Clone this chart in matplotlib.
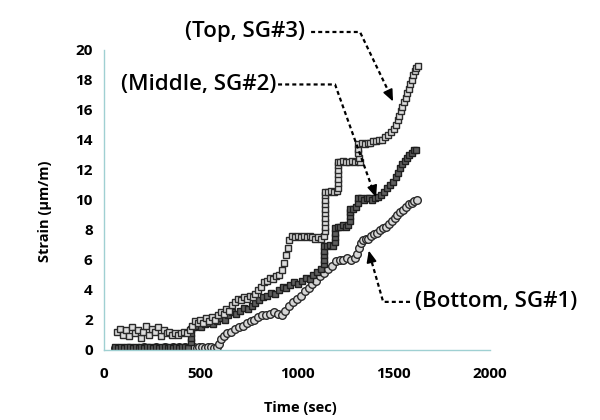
import matplotlib
matplotlib.use('agg')
import matplotlib.pyplot as plt

plt.rcParams['font.family'] = ['Open Sans', 'DejaVu Sans']

# SG#3 (top), square markers
sg3_t = [70, 85, 100, 115, 130, 145, 160, 175, 190, 205, 220, 235, 250, 265, 280, 295, 310, 325, 340, 355, 370, 385, 400, 415, 430, 445,
         455, 470, 485, 500, 515, 530, 545, 560, 575, 590, 605, 620, 635, 650, 665, 680, 695, 710, 725, 740, 755, 770, 785, 800,
         815, 830, 845, 860, 875, 890, 905, 920, 935, 945, 955, 960,
         975, 990, 1005, 1020, 1035, 1050, 1065, 1080, 1095, 1110, 1125, 1140,
         1145, 1145, 1145, 1145, 1145, 1145, 1145, 1145, 1145, 1145,
         1160, 1175, 1190, 1205,
         1210, 1210, 1210, 1210, 1210, 1210, 1210,
         1225, 1240, 1255, 1270, 1285, 1300, 1315, 1325,
         1322, 1318, 1315, 1318,
         1335, 1350, 1365, 1380, 1395, 1410, 1425, 1440, 1455, 1470, 1485, 1500, 1512,
         1522, 1530, 1538, 1546, 1554, 1562, 1570, 1578, 1586, 1594, 1602, 1610, 1618, 1625]
sg3_y = [1.2, 1.4, 1.0, 1.3, 0.9, 1.5, 1.1, 1.3, 0.8, 1.2, 1.6, 1.0, 1.4, 1.2, 1.5, 0.9, 1.3, 1.1, 1.2, 1.0, 1.1, 1.0, 1.1, 1.2, 1.1, 1.3,
         1.6, 1.9, 1.8, 2.0, 1.8, 2.1, 1.9, 2.2, 2.0, 2.3, 2.5, 2.4, 2.7, 2.6, 3.0, 3.2, 3.4, 3.3, 3.5, 3.4, 3.6, 3.5, 3.7, 4.0,
         4.2, 4.5, 4.6, 4.8, 4.7, 4.9, 5.0, 5.3, 5.8, 6.3, 6.8, 7.3,
         7.6, 7.5, 7.6, 7.5, 7.6, 7.5, 7.6, 7.5, 7.4, 7.5, 7.4, 7.6,
         7.9, 8.2, 8.5, 8.8, 9.1, 9.4, 9.7, 10.0, 10.3, 10.5,
         10.5, 10.6, 10.5, 10.6,
         10.8, 11.1, 11.4, 11.7, 12.0, 12.3, 12.5,
         12.5, 12.6, 12.5, 12.5, 12.6, 12.5, 12.6, 12.5,
         12.8, 13.1, 13.4, 13.7,
         13.8, 13.7, 13.8, 13.8, 13.9, 13.9, 14.0, 14.0, 14.2, 14.3, 14.5, 14.7, 15.0,
         15.3, 15.6, 15.9, 16.2, 16.5, 16.8, 17.1, 17.4, 17.7, 18.0, 18.3, 18.6, 18.8, 18.9]

# SG#2 (middle), filled square markers
sg2_t = [60, 75, 90, 105, 120, 135, 150, 165, 180, 195, 210, 225, 240, 255, 270, 285, 300, 315, 330, 345, 360, 375, 390, 405, 420, 435,
         450, 450, 450, 450,
         465, 485, 505, 525, 545, 565, 585, 605, 625, 645, 665, 685, 705, 725, 745, 765, 785, 805, 825, 845,
         865, 885, 905, 925, 945, 965, 985, 1005, 1025, 1045, 1065, 1085, 1105, 1125,
         1140, 1140, 1140, 1140, 1140,
         1155, 1170, 1185,
         1195, 1195, 1195, 1195,
         1210, 1225, 1240, 1255, 1265,
         1275, 1275, 1275, 1275,
         1290, 1305,
         1315, 1315,
         1330, 1345, 1360, 1375, 1390, 1405, 1420, 1435,
         1450, 1465, 1480, 1495, 1510, 1522, 1534, 1546, 1558, 1570, 1582, 1594, 1606, 1616]
sg2_y = [0.2, 0.1, 0.2, 0.1, 0.2, 0.2, 0.1, 0.2, 0.1, 0.2, 0.1, 0.2, 0.2, 0.1, 0.2, 0.1, 0.2, 0.2, 0.1, 0.2, 0.1, 0.2, 0.1, 0.2, 0.2, 0.1,
         0.5, 0.8, 1.1, 1.4,
         1.5, 1.6, 1.5, 1.7, 1.8, 1.7, 1.9, 2.1, 2.0, 2.3, 2.5, 2.4, 2.6, 2.8, 2.7, 2.9, 3.1, 3.3, 3.5, 3.6,
         3.8, 3.7, 4.0, 4.2, 4.1, 4.3, 4.5, 4.4, 4.6, 4.8, 4.7, 5.0, 5.2, 5.4,
         5.7, 6.0, 6.3, 6.6, 6.9,
         6.9, 7.0, 6.9,
         7.2, 7.5, 7.8, 8.1,
         8.2, 8.2, 8.3, 8.2, 8.3,
         8.6, 8.9, 9.2, 9.4,
         9.4, 9.5,
         9.8, 10.1,
         10.1, 10.0, 10.1, 10.1, 10.0, 10.1, 10.2, 10.3,
         10.5, 10.8, 11.0, 11.2, 11.5, 11.8, 12.1, 12.4, 12.6, 12.8, 13.0, 13.1, 13.3, 13.3]

# SG#1 (bottom), circle markers
sg1_t = [60, 75, 90, 105, 120, 135, 150, 165, 180, 195, 210, 225, 240, 255, 270, 285, 300, 315, 330, 345, 360, 375, 390, 405,
         420, 435, 450, 465, 480, 495, 510, 525, 540, 555, 570, 585,
         595, 605, 620, 640, 660, 680, 700, 720, 740, 760, 780, 800, 820, 840, 860, 880, 900, 920, 940, 960,
         980, 1000, 1020, 1040, 1060, 1080, 1100, 1120, 1140, 1160, 1180, 1200, 1220, 1240, 1260, 1280, 1300,
         1310, 1320, 1330, 1340,
         1355, 1370,
         1385, 1400, 1415, 1430, 1445, 1460, 1475, 1490, 1505, 1520, 1535, 1550, 1565, 1580, 1595, 1608, 1620]
sg1_y = [0.1, 0.1, 0.0, 0.1, 0.1, 0.1, 0.0, 0.1, 0.1, 0.1, 0.2, 0.1, 0.1, 0.1, 0.2, 0.1, 0.1, 0.2, 0.1, 0.1, 0.2, 0.1, 0.2, 0.1,
         0.2, 0.1, 0.2, 0.2, 0.1, 0.2, 0.2, 0.1, 0.2, 0.2, 0.1, 0.2,
         0.4, 0.7, 0.9, 1.1, 1.2, 1.4, 1.5, 1.6, 1.8, 1.9, 2.0, 2.2, 2.3, 2.3, 2.4, 2.5, 2.4, 2.3, 2.6, 2.9,
         3.2, 3.4, 3.6, 3.9, 4.1, 4.4, 4.6, 4.9, 5.1, 5.4, 5.6, 5.9, 6.0, 6.0, 6.1, 6.0, 6.1,
         6.4, 6.8, 7.1, 7.3,
         7.4, 7.4,
         7.6, 7.7, 7.8, 8.0, 8.1, 8.2, 8.4, 8.6, 8.8, 9.0, 9.2, 9.3, 9.5, 9.7, 9.8, 9.9, 10.0]

fig = plt.figure(figsize=(6, 4.2), dpi=100)
ax = fig.add_axes([0.173, 0.167, 0.644, 0.714])

ax.plot(sg1_t, sg1_y, 'o', ms=5.5, mfc='#d6d6d6', mec='#2a2a2a', mew=1.0, ls='none')
ax.plot(sg2_t, sg2_y, 's', ms=5, mfc='#5e5e5e', mec='#1e1e1e', mew=1.0, ls='none')
ax.plot(sg3_t, sg3_y, 's', ms=5, mfc='#dcdcdc', mec='#2a2a2a', mew=1.0, ls='none')

ax.set_xlim(0, 2000)
ax.set_ylim(0, 20)
ax.set_xticks([0, 500, 1000, 1500, 2000])
ax.set_yticks(range(0, 21, 2))
ax.tick_params(length=0, labelsize=11)
ax.tick_params(axis='x', pad=12)
ax.tick_params(axis='y', pad=8)
for lab in ax.get_xticklabels() + ax.get_yticklabels():
    lab.set_fontweight('bold')
for s in ['top', 'right']:
    ax.spines[s].set_visible(False)
for s in ['left', 'bottom']:
    ax.spines[s].set_color('#9fd0d2')
    ax.spines[s].set_linewidth(1.0)

ax.set_xlabel('Time (sec)', fontsize=10.5, fontweight='bold')
ax.set_ylabel('Strain (\u03bcm/m)', fontsize=10.5, fontweight='bold')
ax.xaxis.set_label_coords(0.508, -0.17)
ax.yaxis.set_label_coords(-0.135, 0.463)

# callouts
dash = dict(color='black', lw=1.6, ls=(0, (1.8, 1.4)), clip_on=False)
head = dict(arrowstyle='-|>,head_length=0.7,head_width=0.3', color='black', lw=1.2)

ax.text(1043, 21.2, '(Top, SG#3)', ha='right', va='center', fontsize=16, fontweight='semibold')
ax.plot([1073, 1326, 1490], [21.2, 21.2, 16.8], **dash)
ax.annotate('', xy=(1503, 16.4), xytext=(1470, 17.3), arrowprops=head, annotation_clip=False)

ax.text(893, 17.7, '(Middle, SG#2)', ha='right', va='center', fontsize=16, fontweight='semibold')
ax.plot([902, 1197, 1400], [17.7, 17.7, 10.4], **dash)
ax.annotate('', xy=(1414, 10.0), xytext=(1390, 10.9), arrowprops=head)

ax.text(1611, 3.2, '(Bottom, SG#1)', ha='left', va='center', fontsize=16, fontweight='semibold')
ax.plot([1585, 1446, 1375], [3.2, 3.2, 6.4], **dash)
ax.annotate('', xy=(1368, 6.8), xytext=(1385, 5.9), arrowprops=head)

plt.savefig('out.png')
